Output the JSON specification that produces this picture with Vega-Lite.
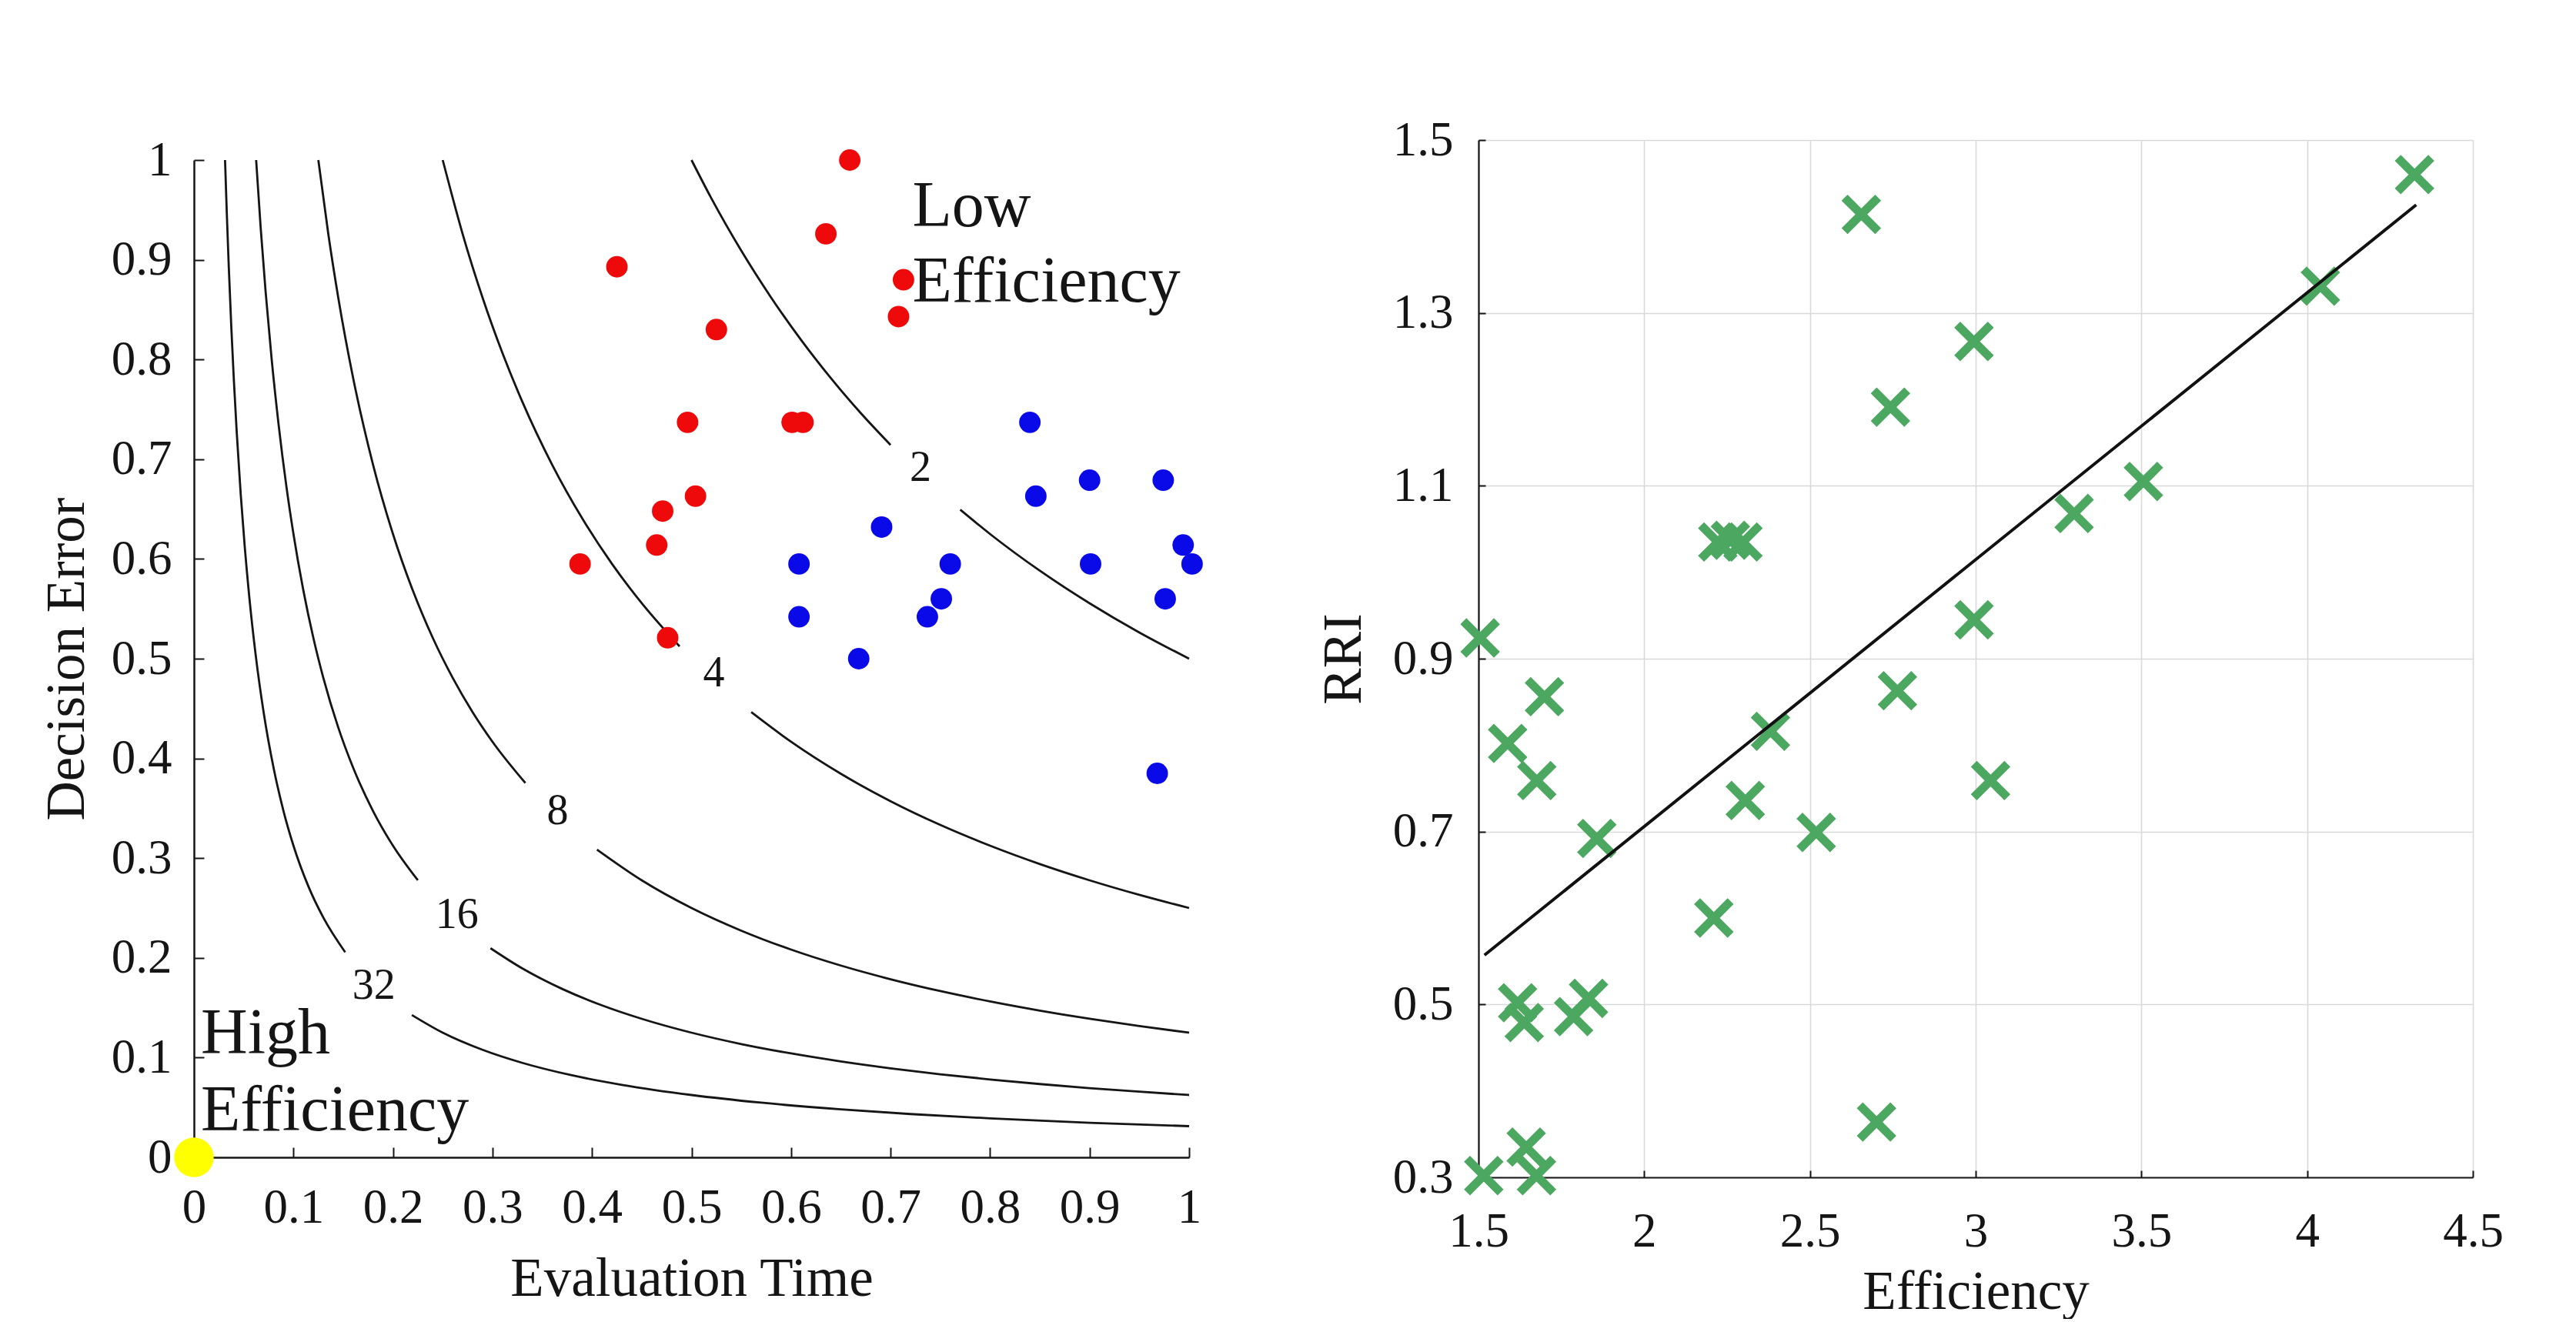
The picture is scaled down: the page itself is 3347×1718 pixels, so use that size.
{
  "$schema": "https://vega.github.io/schema/vega-lite/v6.json",
  "background": "white",
  "padding": {"left": 51, "top": 151, "right": 0, "bottom": 0},
  "bounds": "flush",
  "center": true,
  "spacing": 376,
  "config": {
    "font": "Liberation Serif",
    "view": {"stroke": null},
    "axis": {
      "labelFont": "Liberation Serif",
      "titleFont": "Liberation Serif",
      "labelFontSize": 63,
      "titleFontSize": 71,
      "titleFontWeight": "normal",
      "labelColor": "#151515",
      "titleColor": "#151515",
      "domainColor": "#151515",
      "tickColor": "#151515",
      "labelFlush": false,
      "labelOverlap": false
    }
  },
  "hconcat": [
    {
      "width": 1293,
      "height": 1296,
      "layer": [
        {
          "data": {"values": [
            {"seg": "2a", "x": 0.5, "y": 1.0}, {"seg": "2a", "x": 0.52, "y": 0.9615}, {"seg": "2a", "x": 0.55, "y": 0.9091}, {"seg": "2a", "x": 0.58, "y": 0.8621}, {"seg": "2a", "x": 0.61, "y": 0.8197}, {"seg": "2a", "x": 0.64, "y": 0.7813}, {"seg": "2a", "x": 0.67, "y": 0.7463}, {"seg": "2a", "x": 0.70, "y": 0.7143},
            {"seg": "2b", "x": 0.77, "y": 0.6494}, {"seg": "2b", "x": 0.80, "y": 0.625}, {"seg": "2b", "x": 0.85, "y": 0.5882}, {"seg": "2b", "x": 0.90, "y": 0.5556}, {"seg": "2b", "x": 0.95, "y": 0.5263}, {"seg": "2b", "x": 1.0, "y": 0.5},
            {"seg": "4a", "x": 0.25, "y": 1.0}, {"seg": "4a", "x": 0.27, "y": 0.9259}, {"seg": "4a", "x": 0.29, "y": 0.8621}, {"seg": "4a", "x": 0.31, "y": 0.8065}, {"seg": "4a", "x": 0.33, "y": 0.7576}, {"seg": "4a", "x": 0.36, "y": 0.6944}, {"seg": "4a", "x": 0.39, "y": 0.641}, {"seg": "4a", "x": 0.42, "y": 0.5952}, {"seg": "4a", "x": 0.45, "y": 0.5556}, {"seg": "4a", "x": 0.488, "y": 0.5123},
            {"seg": "4b", "x": 0.56, "y": 0.4464}, {"seg": "4b", "x": 0.60, "y": 0.4167}, {"seg": "4b", "x": 0.65, "y": 0.3846}, {"seg": "4b", "x": 0.70, "y": 0.3571}, {"seg": "4b", "x": 0.75, "y": 0.3333}, {"seg": "4b", "x": 0.80, "y": 0.3125}, {"seg": "4b", "x": 0.85, "y": 0.2941}, {"seg": "4b", "x": 0.90, "y": 0.2778}, {"seg": "4b", "x": 0.95, "y": 0.2632}, {"seg": "4b", "x": 1.0, "y": 0.25},
            {"seg": "8a", "x": 0.125, "y": 1.0}, {"seg": "8a", "x": 0.135, "y": 0.9259}, {"seg": "8a", "x": 0.145, "y": 0.8621}, {"seg": "8a", "x": 0.16, "y": 0.7813}, {"seg": "8a", "x": 0.18, "y": 0.6944}, {"seg": "8a", "x": 0.20, "y": 0.625}, {"seg": "8a", "x": 0.22, "y": 0.5682}, {"seg": "8a", "x": 0.24, "y": 0.5208}, {"seg": "8a", "x": 0.26, "y": 0.4808}, {"seg": "8a", "x": 0.28, "y": 0.4464}, {"seg": "8a", "x": 0.30, "y": 0.4167}, {"seg": "8a", "x": 0.333, "y": 0.3754},
            {"seg": "8b", "x": 0.405, "y": 0.3086}, {"seg": "8b", "x": 0.45, "y": 0.2778}, {"seg": "8b", "x": 0.5, "y": 0.25}, {"seg": "8b", "x": 0.55, "y": 0.2273}, {"seg": "8b", "x": 0.6, "y": 0.2083}, {"seg": "8b", "x": 0.65, "y": 0.1923}, {"seg": "8b", "x": 0.7, "y": 0.1786}, {"seg": "8b", "x": 0.75, "y": 0.1667}, {"seg": "8b", "x": 0.8, "y": 0.1563}, {"seg": "8b", "x": 0.85, "y": 0.1471}, {"seg": "8b", "x": 0.9, "y": 0.1389}, {"seg": "8b", "x": 0.95, "y": 0.1316}, {"seg": "8b", "x": 1.0, "y": 0.125},
            {"seg": "16a", "x": 0.0625, "y": 1.0}, {"seg": "16a", "x": 0.067, "y": 0.9328}, {"seg": "16a", "x": 0.072, "y": 0.8681}, {"seg": "16a", "x": 0.078, "y": 0.8013}, {"seg": "16a", "x": 0.085, "y": 0.7353}, {"seg": "16a", "x": 0.093, "y": 0.672}, {"seg": "16a", "x": 0.10, "y": 0.625}, {"seg": "16a", "x": 0.11, "y": 0.5682}, {"seg": "16a", "x": 0.12, "y": 0.5208}, {"seg": "16a", "x": 0.13, "y": 0.4808}, {"seg": "16a", "x": 0.145, "y": 0.431}, {"seg": "16a", "x": 0.16, "y": 0.3906}, {"seg": "16a", "x": 0.18, "y": 0.3472}, {"seg": "16a", "x": 0.20, "y": 0.3125}, {"seg": "16a", "x": 0.225, "y": 0.2778},
            {"seg": "16b", "x": 0.298, "y": 0.2097}, {"seg": "16b", "x": 0.33, "y": 0.1894}, {"seg": "16b", "x": 0.37, "y": 0.1689}, {"seg": "16b", "x": 0.41, "y": 0.1524}, {"seg": "16b", "x": 0.45, "y": 0.1389}, {"seg": "16b", "x": 0.5, "y": 0.125}, {"seg": "16b", "x": 0.55, "y": 0.1136}, {"seg": "16b", "x": 0.6, "y": 0.1042}, {"seg": "16b", "x": 0.65, "y": 0.0962}, {"seg": "16b", "x": 0.7, "y": 0.0893}, {"seg": "16b", "x": 0.75, "y": 0.0833}, {"seg": "16b", "x": 0.8, "y": 0.0781}, {"seg": "16b", "x": 0.85, "y": 0.0735}, {"seg": "16b", "x": 0.9, "y": 0.0694}, {"seg": "16b", "x": 0.95, "y": 0.0658}, {"seg": "16b", "x": 1.0, "y": 0.0625},
            {"seg": "32a", "x": 0.03125, "y": 1.0}, {"seg": "32a", "x": 0.033, "y": 0.947}, {"seg": "32a", "x": 0.035, "y": 0.8929}, {"seg": "32a", "x": 0.0375, "y": 0.8333}, {"seg": "32a", "x": 0.04, "y": 0.7813}, {"seg": "32a", "x": 0.043, "y": 0.7267}, {"seg": "32a", "x": 0.047, "y": 0.6649}, {"seg": "32a", "x": 0.051, "y": 0.6127}, {"seg": "32a", "x": 0.056, "y": 0.558}, {"seg": "32a", "x": 0.062, "y": 0.504}, {"seg": "32a", "x": 0.07, "y": 0.4464}, {"seg": "32a", "x": 0.08, "y": 0.3906}, {"seg": "32a", "x": 0.09, "y": 0.3472}, {"seg": "32a", "x": 0.10, "y": 0.3125}, {"seg": "32a", "x": 0.115, "y": 0.2717}, {"seg": "32a", "x": 0.13, "y": 0.2404}, {"seg": "32a", "x": 0.152, "y": 0.2056},
            {"seg": "32b", "x": 0.219, "y": 0.1427}, {"seg": "32b", "x": 0.25, "y": 0.125}, {"seg": "32b", "x": 0.29, "y": 0.1078}, {"seg": "32b", "x": 0.33, "y": 0.0947}, {"seg": "32b", "x": 0.38, "y": 0.0822}, {"seg": "32b", "x": 0.43, "y": 0.0727}, {"seg": "32b", "x": 0.5, "y": 0.0625}, {"seg": "32b", "x": 0.57, "y": 0.0548}, {"seg": "32b", "x": 0.65, "y": 0.0481}, {"seg": "32b", "x": 0.72, "y": 0.0434}, {"seg": "32b", "x": 0.8, "y": 0.0391}, {"seg": "32b", "x": 0.9, "y": 0.0347}, {"seg": "32b", "x": 1.0, "y": 0.03125}
          ]},
          "mark": {"type": "line", "color": "#151515", "strokeWidth": 2.8, "interpolate": "monotone"},
          "encoding": {
            "x": {"field": "x", "type": "quantitative", "scale": {"domain": [0, 1], "nice": false},
                  "axis": {"title": "Evaluation Time", "values": [0, 0.1, 0.2, 0.3, 0.4, 0.5, 0.6, 0.7, 0.8, 0.9, 1], "format": ".1~f", "grid": false, "tickSize": -13, "tickWidth": 2, "domainWidth": 2.5, "labelPadding": 47, "titlePadding": 26}},
            "y": {"field": "y", "type": "quantitative", "scale": {"domain": [0, 1], "nice": false},
                  "axis": {"title": "Decision Error", "values": [0, 0.1, 0.2, 0.3, 0.4, 0.5, 0.6, 0.7, 0.8, 0.9, 1], "format": ".1~f", "grid": false, "tickSize": -13, "tickWidth": 2, "domainWidth": 2.5, "labelPadding": 42, "titlePadding": 21}},
            "detail": {"field": "seg"},
            "order": {"field": "x", "type": "quantitative"}
          }
        },
        {
          "data": {"values": [
            {"x": 0.730, "y": 0.691, "t": "2"},
            {"x": 0.5225, "y": 0.485, "t": "4"},
            {"x": 0.3654, "y": 0.3475, "t": "8"},
            {"x": 0.2644, "y": 0.2432, "t": "16"},
            {"x": 0.1807, "y": 0.1722, "t": "32"}
          ]},
          "mark": {"type": "text", "fontSize": 56, "color": "#151515", "align": "center", "baseline": "middle"},
          "encoding": {
            "x": {"field": "x", "type": "quantitative"},
            "y": {"field": "y", "type": "quantitative"},
            "text": {"field": "t"}
          }
        },
        {
          "data": {"values": [
            {"x": 0.659, "y": 1.0, "g": "red"}, {"x": 0.635, "y": 0.926, "g": "red"}, {"x": 0.425, "y": 0.893, "g": "red"}, {"x": 0.713, "y": 0.880, "g": "red"}, {"x": 0.708, "y": 0.843, "g": "red"}, {"x": 0.525, "y": 0.830, "g": "red"}, {"x": 0.496, "y": 0.737, "g": "red"}, {"x": 0.601, "y": 0.737, "g": "red"}, {"x": 0.612, "y": 0.737, "g": "red"}, {"x": 0.504, "y": 0.663, "g": "red"}, {"x": 0.471, "y": 0.648, "g": "red"}, {"x": 0.465, "y": 0.614, "g": "red"}, {"x": 0.388, "y": 0.595, "g": "red"}, {"x": 0.476, "y": 0.521, "g": "red"},
            {"x": 0.840, "y": 0.737, "g": "blue"}, {"x": 0.846, "y": 0.663, "g": "blue"}, {"x": 0.900, "y": 0.679, "g": "blue"}, {"x": 0.974, "y": 0.679, "g": "blue"}, {"x": 0.691, "y": 0.632, "g": "blue"}, {"x": 0.608, "y": 0.595, "g": "blue"}, {"x": 0.760, "y": 0.595, "g": "blue"}, {"x": 0.901, "y": 0.595, "g": "blue"}, {"x": 0.994, "y": 0.614, "g": "blue"}, {"x": 1.003, "y": 0.595, "g": "blue"}, {"x": 0.608, "y": 0.542, "g": "blue"}, {"x": 0.751, "y": 0.560, "g": "blue"}, {"x": 0.737, "y": 0.542, "g": "blue"}, {"x": 0.976, "y": 0.560, "g": "blue"}, {"x": 0.668, "y": 0.500, "g": "blue"}, {"x": 0.968, "y": 0.385, "g": "blue"}
          ]},
          "mark": {"type": "circle", "opacity": 1, "size": 780},
          "encoding": {
            "x": {"field": "x", "type": "quantitative"},
            "y": {"field": "y", "type": "quantitative"},
            "color": {"field": "g", "type": "nominal", "scale": {"domain": ["red", "blue"], "range": ["#ee0a0a", "#0a0ae8"]}, "legend": null}
          }
        },
        {
          "data": {"values": [{"x": 0, "y": 0}]},
          "mark": {"type": "circle", "opacity": 1, "size": 2640, "color": "#ffff00"},
          "encoding": {
            "x": {"field": "x", "type": "quantitative"},
            "y": {"field": "y", "type": "quantitative"}
          }
        },
        {
          "data": {"values": [
            {"x": 0.722, "y": 0.934, "t": "Low"},
            {"x": 0.722, "y": 0.858, "t": "Efficiency"},
            {"x": 0.007, "y": 0.104, "t": "High"},
            {"x": 0.007, "y": 0.027, "t": "Efficiency"}
          ]},
          "mark": {"type": "text", "fontSize": 84, "color": "#151515", "align": "left", "baseline": "alphabetic"},
          "encoding": {
            "x": {"field": "x", "type": "quantitative"},
            "y": {"field": "y", "type": "quantitative"},
            "text": {"field": "t"}
          }
        }
      ]
    },
    {
      "width": 1292,
      "height": 1348,
      "layer": [
        {
          "data": {"values": [
            {"x": 4.324, "y": 1.460}, {"x": 2.655, "y": 1.414}, {"x": 4.040, "y": 1.331}, {"x": 2.995, "y": 1.267}, {"x": 2.743, "y": 1.191}, {"x": 3.506, "y": 1.105}, {"x": 3.297, "y": 1.068}, {"x": 2.222, "y": 1.035}, {"x": 2.260, "y": 1.037}, {"x": 2.298, "y": 1.035}, {"x": 2.995, "y": 0.945}, {"x": 1.505, "y": 0.924}, {"x": 1.699, "y": 0.856}, {"x": 2.764, "y": 0.863}, {"x": 1.588, "y": 0.802}, {"x": 2.381, "y": 0.816}, {"x": 1.676, "y": 0.759}, {"x": 3.045, "y": 0.759}, {"x": 2.305, "y": 0.736}, {"x": 1.857, "y": 0.692}, {"x": 2.519, "y": 0.699}, {"x": 2.210, "y": 0.600}, {"x": 1.618, "y": 0.502}, {"x": 1.638, "y": 0.479}, {"x": 1.787, "y": 0.486}, {"x": 1.832, "y": 0.507}, {"x": 2.701, "y": 0.364}, {"x": 1.644, "y": 0.335}, {"x": 1.516, "y": 0.302}, {"x": 1.675, "y": 0.302}
          ]},
          "mark": {"type": "point", "shape": "M-1,-1L1,1M-1,1L1,-1", "filled": false, "size": 1900, "strokeWidth": 11, "strokeCap": "butt", "color": "#4ca860", "opacity": 1},
          "encoding": {
            "x": {"field": "x", "type": "quantitative", "scale": {"domain": [1.5, 4.5], "nice": false},
                  "axis": {"title": "Efficiency", "values": [1.5, 2, 2.5, 3, 3.5, 4, 4.5], "format": "~g", "grid": true, "gridColor": "#d9d9d9", "gridWidth": 1.6, "tickSize": -9, "tickWidth": 2, "domainWidth": 2.2, "labelPadding": 48, "titlePadding": 12}},
            "y": {"field": "y", "type": "quantitative", "scale": {"domain": [0.3, 1.5], "nice": false},
                  "axis": {"title": "RRI", "values": [0.3, 0.5, 0.7, 0.9, 1.1, 1.3, 1.5], "format": ".1f", "grid": true, "gridColor": "#d9d9d9", "gridWidth": 1.6, "tickSize": -9, "tickWidth": 2, "domainWidth": 2.2, "labelPadding": 42, "titlePadding": 27}}
          }
        },
        {
          "data": {"values": [{"x": 1.518, "y": 0.557}, {"x": 4.329, "y": 1.425}]},
          "mark": {"type": "line", "color": "#111111", "strokeWidth": 4},
          "encoding": {
            "x": {"field": "x", "type": "quantitative"},
            "y": {"field": "y", "type": "quantitative"}
          }
        }
      ]
    }
  ]
}
